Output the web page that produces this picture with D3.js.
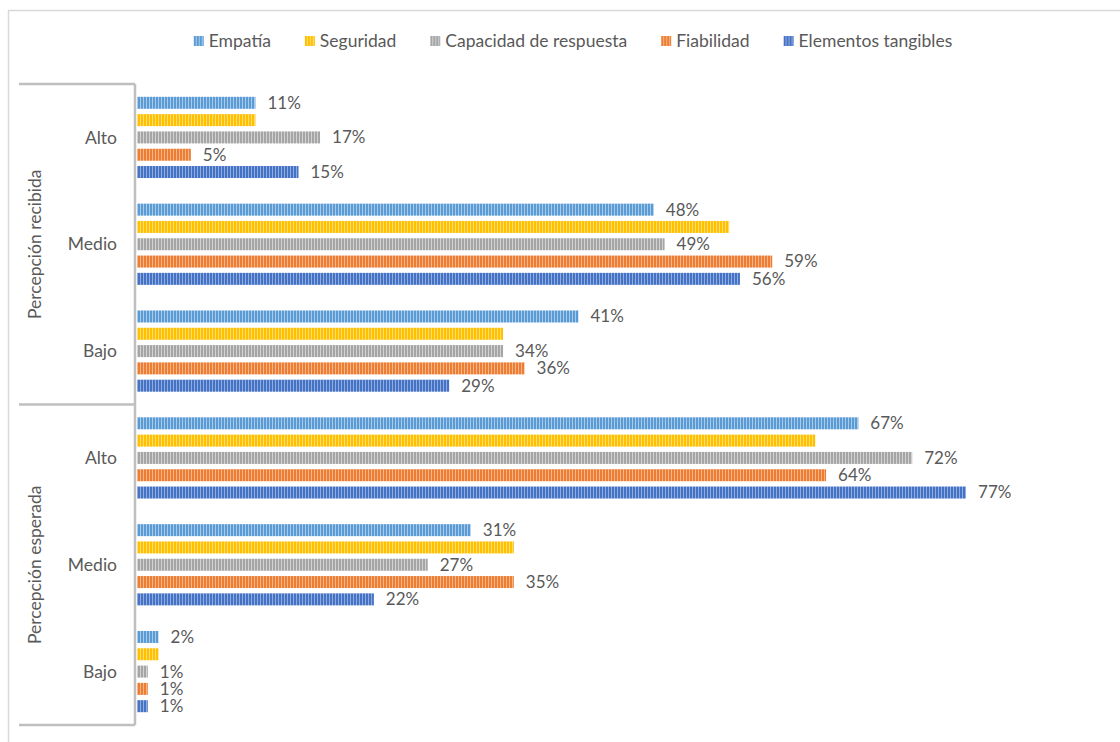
<!DOCTYPE html>
<html>
<head>
<meta charset="utf-8">
<script src="https://cdn.jsdelivr.net/npm/d3@7"></script>
<style>
  body { margin: 0; background: #fff; }
  text { font-family: Lato, "Open Sans", sans-serif; fill: #595959; }
</style>
</head>
<body>
<svg id="canvas" width="1120" height="742"></svg>
<script>
// ---- data (values in %) ----
var groups = ["Percepción recibida", "Percepción esperada"];
var levels = ["Alto", "Medio", "Bajo"];
var series = ["Empatía", "Seguridad", "Capacidad de respuesta", "Fiabilidad", "Elementos tangibles"];
var empatia    = [11, 48, 41, 67, 31, 2];
var seguridad  = [11, 55, 34, 63, 35, 2];
var capacidad  = [17, 49, 34, 72, 27, 1];
var fiabilidad = [5, 59, 36, 64, 35, 1];
var elementos  = [15, 56, 29, 77, 22, 1];
var showLabel  = [true, false, true, true, true];

var values = [empatia, seguridad, capacidad, fiabilidad, elementos];
var colors = ["#5B9BD5", "#FFC000", "#A5A5A5", "#ED7D31", "#4472C4"];
var lights = ["#A9CBEA", "#FFDD73", "#D2D2D2", "#F6B48A", "#93ACDE"];

var svg = d3.select('#canvas');
var W = 1120, H = 742;
var fs = 17.5;

// chart frame
svg.append('rect')
  .attr('x', 8.5).attr('y', 10.5).attr('width', W + 40).attr('height', H + 40)
  .attr('fill', 'none').attr('stroke', '#d9d9d9').attr('stroke-width', 1.5);

// stripe patterns
var defs = svg.append('defs');
series.forEach(function(s, i) {
  var p = defs.append('pattern').attr('id', 'pat' + i)
    .attr('patternUnits', 'userSpaceOnUse').attr('width', 3).attr('height', 10);
  p.append('rect').attr('width', 3).attr('height', 10).attr('fill', colors[i]);
  p.append('rect').attr('x', 2).attr('width', 1).attr('height', 10).attr('fill', lights[i]);
});

// categories: 6 rows, group x level
var cats = [];
groups.forEach(function(g) { levels.forEach(function(l) { cats.push(g + '|' + l); }); });

var plotTop = 84, plotBottom = 725, axisX = 135;
var y0 = d3.scaleBand().domain(cats).range([plotTop, plotBottom]);
var y1 = d3.scaleBand().domain(series).range([0, y0.bandwidth()])
  .paddingInner(0.306).paddingOuter(0.74);
var x = d3.scaleLinear().domain([0, 90]).range([137, 1106]);

// bars
var rows = svg.append('g');
cats.forEach(function(c, ci) {
  var g = rows.append('g').attr('transform', 'translate(0,' + y0(c) + ')');
  series.forEach(function(s, si) {
    var v = values[si][ci];
    g.append('rect')
      .attr('x', x(0)).attr('y', y1(s))
      .attr('width', x(v) - x(0)).attr('height', y1.bandwidth())
      .attr('fill', 'url(#pat' + si + ')');
    if (showLabel[si]) {
      g.append('text')
        .attr('x', x(v) + 12).attr('y', y1(s) + y1.bandwidth() / 2)
        .attr('dy', '0.35em').attr('font-size', 17)
        .text(v + '%');
    }
  });
  g.append('text')
    .attr('x', 117).attr('y', y0.bandwidth() / 2).attr('dy', '0.35em')
    .attr('text-anchor', 'end').attr('font-size', fs)
    .text(c.split('|')[1]);
});

// multi-level category axis
var axis = svg.append('g').attr('stroke', '#bfbfbf').attr('stroke-width', 2.5).attr('fill', 'none');
axis.append('line').attr('x1', axisX).attr('x2', axisX).attr('y1', plotTop).attr('y2', plotBottom);
var gScale = d3.scaleBand().domain(groups).range([plotTop, plotBottom]);
[plotTop, gScale(groups[1]), plotBottom].forEach(function(yy) {
  axis.append('line').attr('x1', 19).attr('x2', axisX).attr('y1', yy).attr('y2', yy);
});
groups.forEach(function(gname) {
  var cy = gScale(gname) + gScale.bandwidth() / 2;
  svg.append('text')
    .attr('transform', 'translate(35,' + cy + ') rotate(-90)')
    .attr('text-anchor', 'middle').attr('dy', '0.35em').attr('font-size', fs)
    .text(gname);
});

// legend
var legend = svg.append('g');
var cursor = 0, gap = 34;
series.forEach(function(s, i) {
  var it = legend.append('g');
  it.append('rect').attr('x', 0).attr('y', -5).attr('width', 10).attr('height', 10)
    .attr('fill', 'url(#pat' + i + ')');
  var t = it.append('text').attr('x', 15).attr('y', 0).attr('dy', '0.35em')
    .attr('font-size', fs).text(s);
  var w = 15 + t.node().getComputedTextLength();
  it.attr('transform', 'translate(' + cursor + ',0)');
  cursor += w + gap;
});
cursor -= gap;
legend.attr('transform', 'translate(' + (573 - cursor / 2) + ',41)');
</script>
</body>
</html>
